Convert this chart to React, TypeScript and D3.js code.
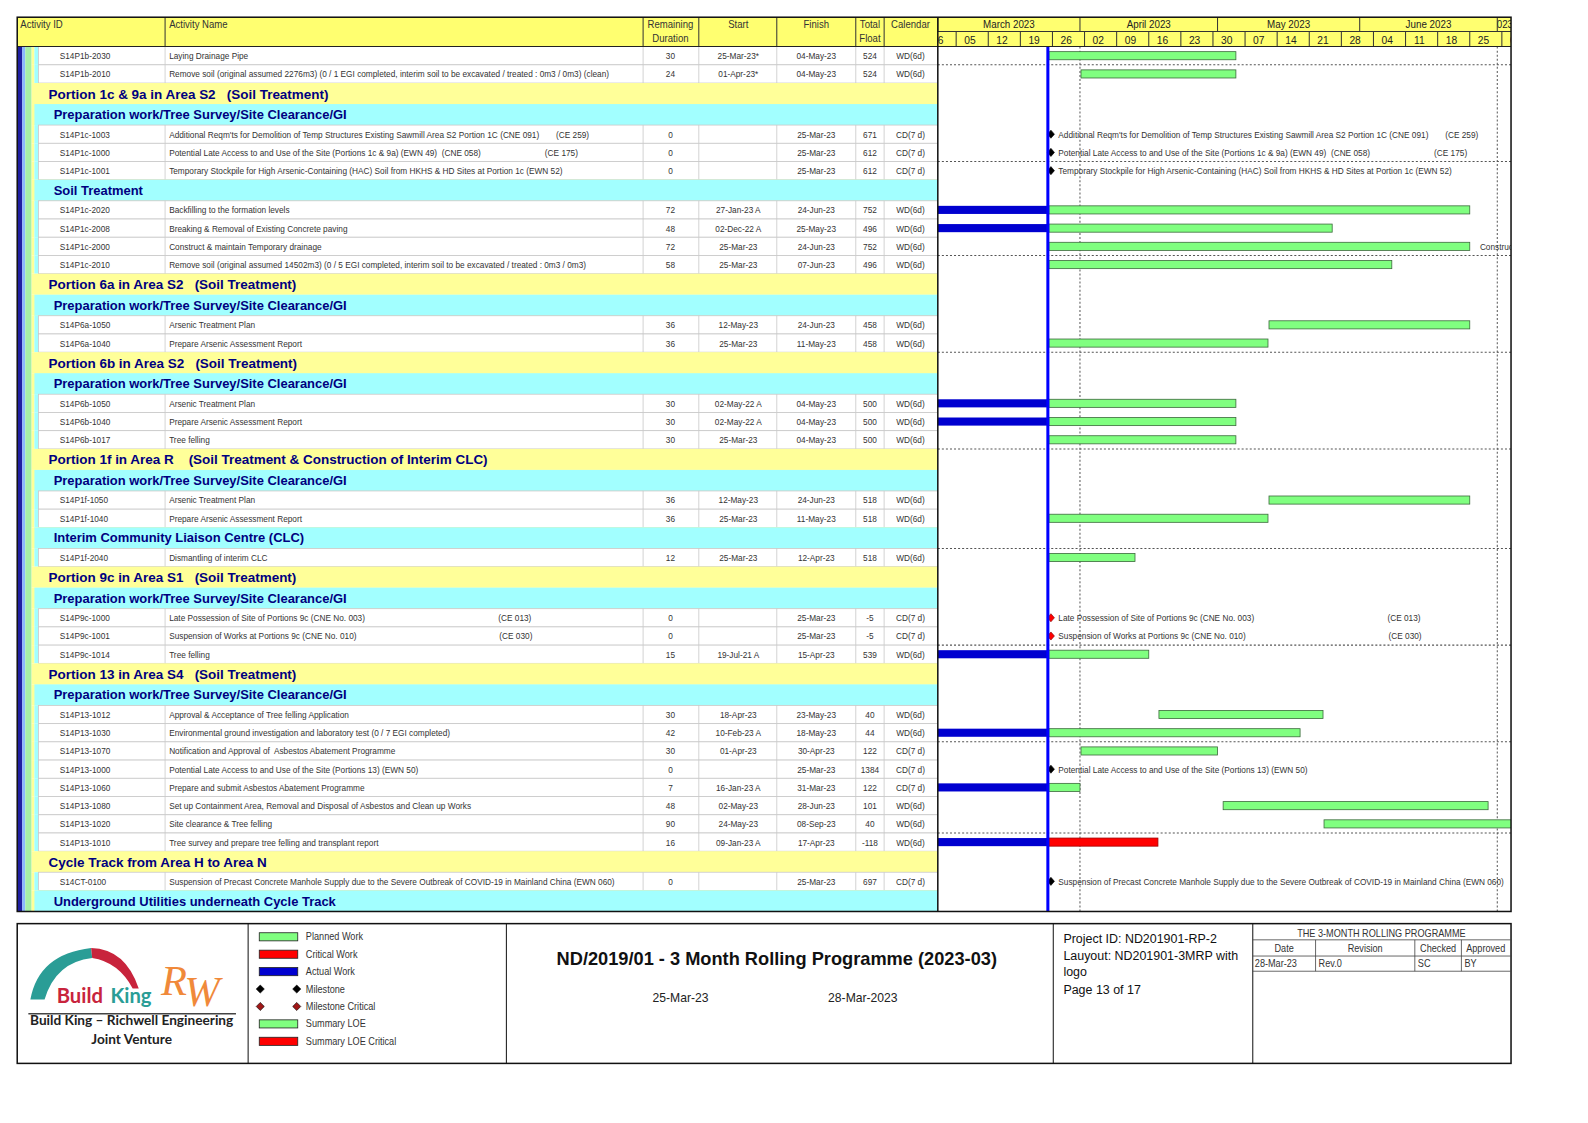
import React from "react";
import * as d3 from "d3";

// page outline: L1 = yellow WBS band, L2 = cyan WBS band, A = activity row (by id)
const outline: [string, string][] = [
  ["A", "S14P1b-2030"],
  ["A", "S14P1b-2010"],
  ["L1", "Portion 1c & 9a in Area S2   (Soil Treatment)"],
  ["L2", "Preparation work/Tree Survey/Site Clearance/GI"],
  ["A", "S14P1c-1003"],
  ["A", "S14P1c-1000"],
  ["A", "S14P1c-1001"],
  ["L2", "Soil Treatment"],
  ["A", "S14P1c-2020"],
  ["A", "S14P1c-2008"],
  ["A", "S14P1c-2000"],
  ["A", "S14P1c-2010"],
  ["L1", "Portion 6a in Area S2   (Soil Treatment)"],
  ["L2", "Preparation work/Tree Survey/Site Clearance/GI"],
  ["A", "S14P6a-1050"],
  ["A", "S14P6a-1040"],
  ["L1", "Portion 6b in Area S2   (Soil Treatment)"],
  ["L2", "Preparation work/Tree Survey/Site Clearance/GI"],
  ["A", "S14P6b-1050"],
  ["A", "S14P6b-1040"],
  ["A", "S14P6b-1017"],
  ["L1", "Portion 1f in Area R    (Soil Treatment & Construction of Interim CLC)"],
  ["L2", "Preparation work/Tree Survey/Site Clearance/GI"],
  ["A", "S14P1f-1050"],
  ["A", "S14P1f-1040"],
  ["L2", "Interim Community Liaison Centre (CLC)"],
  ["A", "S14P1f-2040"],
  ["L1", "Portion 9c in Area S1   (Soil Treatment)"],
  ["L2", "Preparation work/Tree Survey/Site Clearance/GI"],
  ["A", "S14P9c-1000"],
  ["A", "S14P9c-1001"],
  ["A", "S14P9c-1014"],
  ["L1", "Portion 13 in Area S4   (Soil Treatment)"],
  ["L2", "Preparation work/Tree Survey/Site Clearance/GI"],
  ["A", "S14P13-1012"],
  ["A", "S14P13-1030"],
  ["A", "S14P13-1070"],
  ["A", "S14P13-1000"],
  ["A", "S14P13-1060"],
  ["A", "S14P13-1080"],
  ["A", "S14P13-1020"],
  ["A", "S14P13-1010"],
  ["L1", "Cycle Track from Area H to Area N"],
  ["A", "S14CT-0100"],
  ["L2", "Underground Utilities underneath Cycle Track"],
];

const actIds = [
  "S14P1b-2030", "S14P1b-2010",
  "S14P1c-1003", "S14P1c-1000", "S14P1c-1001",
  "S14P1c-2020", "S14P1c-2008", "S14P1c-2000", "S14P1c-2010",
  "S14P6a-1050", "S14P6a-1040",
  "S14P6b-1050", "S14P6b-1040", "S14P6b-1017",
  "S14P1f-1050", "S14P1f-1040", "S14P1f-2040",
  "S14P9c-1000", "S14P9c-1001", "S14P9c-1014",
  "S14P13-1012", "S14P13-1030", "S14P13-1070", "S14P13-1000",
  "S14P13-1060", "S14P13-1080", "S14P13-1020", "S14P13-1010",
  "S14CT-0100",
];

const actNames = [
  "Laying Drainage Pipe",
  "Remove soil (original assumed 2276m3) (0 / 1 EGI completed, interim soil to be excavated / treated : 0m3 / 0m3) (clean)",
  "Additional Reqm'ts for Demolition of Temp Structures Existing Sawmill Area S2 Portion 1C (CNE 091)",
  "Potential Late Access to and Use of the Site (Portions 1c & 9a) (EWN 49)  (CNE 058)",
  "Temporary Stockpile for High Arsenic-Containing (HAC) Soil from HKHS & HD Sites at Portion 1c (EWN 52)",
  "Backfilling to the formation levels",
  "Breaking & Removal of Existing Concrete paving",
  "Construct & maintain Temporary drainage",
  "Remove soil (original assumed 14502m3) (0 / 5 EGI completed, interim soil to be excavated / treated : 0m3 / 0m3)",
  "Arsenic Treatment Plan",
  "Prepare Arsenic Assessment Report",
  "Arsenic Treatment Plan",
  "Prepare Arsenic Assessment Report",
  "Tree felling",
  "Arsenic Treatment Plan",
  "Prepare Arsenic Assessment Report",
  "Dismantling of interim CLC",
  "Late Possession of Site of Portions 9c (CNE No. 003)",
  "Suspension of Works at Portions 9c (CNE No. 010)",
  "Tree felling",
  "Approval & Acceptance of Tree felling Application",
  "Environmental ground investigation and laboratory test (0 / 7 EGI completed)",
  "Notification and Approval of  Asbestos Abatement Programme",
  "Potential Late Access to and Use of the Site (Portions 13) (EWN 50)",
  "Prepare and submit Asbestos Abatement Programme",
  "Set up Containment Area, Removal and Disposal of Asbestos and Clean up Works",
  "Site clearance & Tree felling",
  "Tree survey and prepare tree felling and transplant report",
  "Suspension of Precast Concrete Manhole Supply due to the Severe Outbreak of COVID-19 in Mainland China (EWN 060)",
];

const remaining = [30, 24, 0, 0, 0, 72, 48, 72, 58, 36, 36, 30, 30, 30, 36, 36, 12, 0, 0, 15, 30, 42, 30, 0, 7, 48, 90, 16, 0];

const starts = [
  "25-Mar-23*", "01-Apr-23*", "", "", "",
  "27-Jan-23 A", "02-Dec-22 A", "25-Mar-23", "25-Mar-23",
  "12-May-23", "25-Mar-23",
  "02-May-22 A", "02-May-22 A", "25-Mar-23",
  "12-May-23", "25-Mar-23", "25-Mar-23",
  "", "", "19-Jul-21 A",
  "18-Apr-23", "10-Feb-23 A", "01-Apr-23", "", "16-Jan-23 A", "02-May-23", "24-May-23", "09-Jan-23 A",
  "",
];

const finishes = [
  "04-May-23", "04-May-23", "25-Mar-23", "25-Mar-23", "25-Mar-23",
  "24-Jun-23", "25-May-23", "24-Jun-23", "07-Jun-23",
  "24-Jun-23", "11-May-23",
  "04-May-23", "04-May-23", "04-May-23",
  "24-Jun-23", "11-May-23", "12-Apr-23",
  "25-Mar-23", "25-Mar-23", "15-Apr-23",
  "23-May-23", "18-May-23", "30-Apr-23", "25-Mar-23", "31-Mar-23", "28-Jun-23", "08-Sep-23", "17-Apr-23",
  "25-Mar-23",
];

const floats = [524, 524, 671, 612, 612, 752, 496, 752, 496, 458, 458, 500, 500, 500, 518, 518, 518, -5, -5, 539, 40, 44, 122, 1384, 122, 101, 40, -118, 697];

const calendars = [
  "WD(6d)", "WD(6d)", "CD(7 d)", "CD(7 d)", "CD(7 d)",
  "WD(6d)", "WD(6d)", "WD(6d)", "WD(6d)", "WD(6d)", "WD(6d)",
  "WD(6d)", "WD(6d)", "WD(6d)", "WD(6d)", "WD(6d)", "WD(6d)",
  "CD(7 d)", "CD(7 d)", "WD(6d)",
  "WD(6d)", "WD(6d)", "CD(7 d)", "CD(7 d)", "CD(7 d)", "WD(6d)", "WD(6d)", "WD(6d)",
  "CD(7 d)",
];

const ceTags: Record<string, string> = {
  "S14P1c-1003": "(CE 259)",
  "S14P1c-1000": "(CE 175)",
  "S14P9c-1000": "(CE 013)",
  "S14P9c-1001": "(CE 030)",
};

const barLabelIds = ["S14P1c-2000"];

const dataDate = "25-Mar-23";

const legendItems: [string, string][] = [
  ["Planned Work", "planned"],
  ["Critical Work", "critical"],
  ["Actual Work", "actual"],
  ["Milestone", "ms"],
  ["Milestone Critical", "msCrit"],
  ["Summary LOE", "planned"],
  ["Summary LOE Critical", "critical"],
];

const revisionHead = ["Date", "Revision", "Checked", "Approved"];
const revisionRow = ["28-Mar-23", "Rev.0", "SC", "BY"];

// ---- layout ----
const K = 1588 / 1568; // page scale
const LEFT = 17;
const RIGHT = 1492;
const TOP = 17;
const HEAD_BOT = 46;
const GX = 926;
const ROW_H = 18;
const BAND_H = 20.75;
const colLines = [163, 635, 690, 767, 845, 873];
const ceTab: Record<string, number> = {
  "S14P1c-1003": 382,
  "S14P1c-1000": 371,
  "S14P9c-1000": 325,
  "S14P9c-1001": 326,
};

const SANS = "'Liberation Sans',Arial,sans-serif";
const NAVY = "#000080";
const YEL = "#ffff99";
const CYAN = "#a2ffff";
const GREEN = "#80ff80";
const BLUE = "#0000d0";

const parse = d3.timeParse("%d-%b-%y");
const clean = (s: string) => parse(s.replace("*", "").replace(" A", "").trim()) as Date;

// condensed text (the PDF uses a narrow face)
const T = ({ x, y, anchor = "start", sx = 0.86, size = 9.5, fill = "#333", children }: any) => (
  <text
    transform={`translate(${x},${y}) scale(${sx},1)`}
    textAnchor={anchor}
    style={{ fontFamily: SANS, fontSize: size, fill, whiteSpace: "pre" }}
  >
    {children}
  </text>
);

export default function App() {
  let yy = HEAD_BOT;
  const rows = outline.map(([kind, val]) => {
    const h = kind === "A" ? ROW_H : BAND_H;
    const r = { kind, val, y: yy, h };
    yy += h;
    return r;
  });
  const bodyBot = yy;

  const x = d3
    .scaleTime()
    .domain([new Date(2023, 2, 1), new Date(2023, 6, 4)])
    .range([GX, RIGHT]);
  const dd = clean(dataDate);
  const xdd = x(dd);

  const weeks = d3.timeSunday.range(new Date(2023, 1, 26), new Date(2023, 6, 9));
  const months = d3.timeMonth.range(new Date(2023, 2, 1), new Date(2023, 7, 1));
  const quarters = months.filter((m) => m.getMonth() % 3 === 0);
  const fmtDay = d3.timeFormat("%d");
  const fmtMonth = d3.timeFormat("%B %Y");

  return (
    <svg
      width={1588}
      height={1123}
      style={{ position: "absolute", left: 0, top: 0, background: "#fff" }}
    >
      <defs>
        <clipPath id="gclip">
          <rect x={GX} y={TOP} width={RIGHT - GX} height={bodyBot - TOP} />
        </clipPath>
        {months.map((m, k) => (
          <clipPath id={`mclip${k}`} key={k}>
            <rect
              x={Math.max(x(m), GX)}
              y={TOP}
              width={Math.max(0, Math.min(x(d3.timeMonth.offset(m, 1)), RIGHT) - Math.max(x(m), GX))}
              height={14}
            />
          </clipPath>
        ))}
      </defs>
      <g transform={`scale(${K})`}>
        {/* table header */}
        <rect x={LEFT} y={TOP} width={RIGHT - LEFT} height={HEAD_BOT - TOP} fill="#ffff70" />
        {colLines.map((c) => (
          <line key={c} x1={c} x2={c} y1={TOP} y2={HEAD_BOT} stroke="#333" strokeWidth={1} />
        ))}
        <T x={20} y={28} size={11}>Activity ID</T>
        <T x={167} y={28} size={11}>Activity Name</T>
        <T x={662} y={28} size={11} anchor="middle">Remaining</T>
        <T x={662} y={41} size={11} anchor="middle">Duration</T>
        <T x={729} y={28} size={11} anchor="middle">Start</T>
        <T x={806} y={28} size={11} anchor="middle">Finish</T>
        <T x={859} y={28} size={11} anchor="middle">Total</T>
        <T x={859} y={41} size={11} anchor="middle">Float</T>
        <T x={899} y={28} size={11} anchor="middle">Calendar</T>

        {/* table body */}
        {rows.map((r, k) => {
          const cy = r.y + r.h / 2;
          if (r.kind === "L1") {
            return (
              <g key={k}>
                <rect x={31} y={r.y} width={GX - 31} height={r.h} fill={YEL} />
                <text x={48} y={cy + 5} style={{ fontFamily: SANS, fontSize: 13.3, fontWeight: 700, fill: NAVY, whiteSpace: "pre" }}>
                  {r.val}
                </text>
              </g>
            );
          }
          if (r.kind === "L2") {
            return (
              <g key={k}>
                <rect x={31} y={r.y} width={GX - 31} height={r.h} fill={YEL} />
                <rect x={34} y={r.y} width={GX - 34} height={r.h} fill={CYAN} />
                <text x={53} y={cy + 4.5} style={{ fontFamily: SANS, fontSize: 12.8, fontWeight: 700, fill: NAVY }}>
                  {r.val}
                </text>
              </g>
            );
          }
          const i = actIds.indexOf(r.val);
          const ce = ceTags[r.val];
          const ty = cy + 3.4;
          return (
            <g key={k}>
              <rect x={31} y={r.y} width={3} height={r.h} fill={YEL} />
              <rect x={34} y={r.y} width={4} height={r.h} fill={CYAN} />
              <rect x={38} y={r.y} width={GX - 38} height={r.h} fill="#fff" stroke="#c8c8c8" strokeWidth={0.8} />
              {colLines.map((c) => (
                <line key={c} x1={c} x2={c} y1={r.y} y2={r.y + r.h} stroke="#c8c8c8" strokeWidth={0.8} />
              ))}
              <T x={59} y={ty}>{actIds[i]}</T>
              <T x={167} y={ty}>{actNames[i]}</T>
              {ce && <T x={167 + ceTab[r.val]} y={ty}>{ce}</T>}
              <T x={662} y={ty} anchor="middle">{remaining[i]}</T>
              <T x={729} y={ty} anchor="middle">{starts[i]}</T>
              <T x={806} y={ty} anchor="middle">{finishes[i]}</T>
              <T x={859} y={ty} anchor="middle">{floats[i]}</T>
              <T x={899} y={ty} anchor="middle">{calendars[i]}</T>
            </g>
          );
        })}

        {/* left outline strips */}
        <rect x={LEFT} y={HEAD_BOT} width={5} height={bodyBot - HEAD_BOT} fill="#1f1fa0" />
        <rect x={22} y={HEAD_BOT} width={3} height={bodyBot - HEAD_BOT} fill="#8ab8ff" />
        <rect x={25} y={HEAD_BOT} width={6} height={bodyBot - HEAD_BOT} fill="#a6f0a6" />

        {/* gantt */}
        <rect x={GX} y={HEAD_BOT} width={RIGHT - GX} height={bodyBot - HEAD_BOT} fill="#fff" />
        <g clipPath="url(#gclip)">
          {/* timescale */}
          <rect x={GX} y={TOP} width={RIGHT - GX} height={HEAD_BOT - TOP} fill="#ffff70" />
          {months.map((m, k) => {
            const x0 = Math.max(x(m), GX);
            const x1 = x(d3.timeMonth.offset(m, 1));
            const cut = x1 > RIGHT;
            return (
              <g key={k}>
                <line x1={x(m)} x2={x(m)} y1={TOP} y2={31} stroke="#333" />
                <g clipPath={`url(#mclip${k})`}>
                  <T x={cut ? RIGHT + 2 : (x0 + x1) / 2} y={28} size={11} sx={0.88} anchor={cut ? "end" : "middle"} fill="#222">
                    {fmtMonth(m)}
                  </T>
                </g>
              </g>
            );
          })}
          <line x1={GX} x2={RIGHT} y1={31} y2={31} stroke="#333" />
          {weeks.map((w, k) => (
            <g key={k}>
              <line x1={x(w)} x2={x(w)} y1={31} y2={HEAD_BOT} stroke="#333" />
              <T x={x(d3.timeDay.offset(w, 3.5))} y={43} size={11.5} sx={0.88} anchor="middle" fill="#222">
                {fmtDay(w)}
              </T>
            </g>
          ))}

          {/* sight lines every 5 rows */}
          {rows.map((r, k) =>
            k % 5 === 0 && k < rows.length - 1 ? (
              <line key={k} x1={GX} x2={RIGHT} y1={r.y + r.h} y2={r.y + r.h} stroke="#555" strokeDasharray="2,2" />
            ) : null
          )}
          {quarters.map((q, k) => (
            <line key={k} x1={x(q)} x2={x(q)} y1={HEAD_BOT} y2={bodyBot} stroke="#555" strokeDasharray="2,2" />
          ))}

          {/* bars */}
          {rows.map((r, k) => {
            if (r.kind !== "A") return null;
            const i = actIds.indexOf(r.val);
            const cy = r.y + r.h / 2;
            const crit = floats[i] < 0;
            if (remaining[i] === 0) {
              const mx = xdd + 3;
              const ce = ceTags[r.val];
              return (
                <g key={k}>
                  <path
                    d={`M${mx - 3.5},${cy} L${mx},${cy - 4} L${mx + 3.5},${cy} L${mx},${cy + 4} Z`}
                    fill={crit ? "#ff0000" : "#000"}
                    stroke={crit ? "#800000" : "#000"}
                    strokeWidth={0.6}
                  />
                  <T x={1045} y={cy + 3.4}>{actNames[i]}</T>
                  {ce && <T x={1045 + ceTab[r.val]} y={cy + 3.4}>{ce}</T>}
                </g>
              );
            }
            const sd = clean(starts[i]);
            const fd = d3.timeDay.offset(clean(finishes[i]), 1);
            const isActual = starts[i].endsWith(" A");
            const bs = isActual ? xdd : x(sd);
            const bf = x(fd);
            return (
              <g key={k}>
                {isActual && (
                  <rect x={Math.max(x(sd), GX)} y={cy - 4} width={xdd - Math.max(x(sd), GX)} height={8} fill={BLUE} />
                )}
                <rect
                  x={bs + 1}
                  y={cy - 4}
                  width={bf - bs - 1}
                  height={8}
                  fill={crit ? "#ff0000" : GREEN}
                  stroke={crit ? "#a00000" : "#3d6b3d"}
                  strokeWidth={0.8}
                />
                {barLabelIds.includes(r.val) && <T x={bf + 10} y={cy + 3.4}>{actNames[i]}</T>}
              </g>
            );
          })}

          {/* data date */}
          <line x1={xdd} x2={xdd} y1={HEAD_BOT} y2={bodyBot} stroke="#0000ff" strokeWidth={3} />
        </g>

        {/* frames */}
        <line x1={LEFT} x2={RIGHT} y1={HEAD_BOT} y2={HEAD_BOT} stroke="#222" strokeWidth={1} />
        <line x1={GX} x2={GX} y1={TOP} y2={bodyBot} stroke="#111" strokeWidth={1.5} />
        <rect x={LEFT} y={TOP} width={RIGHT - LEFT} height={bodyBot - TOP} fill="none" stroke="#111" strokeWidth={1.5} />

        {/* footer */}
        <rect x={LEFT} y={912} width={RIGHT - LEFT} height={138} fill="#fff" stroke="#111" strokeWidth={1.5} />
        {[245, 500, 1040, 1237].map((c) => (
          <line key={c} x1={c} x2={c} y1={912} y2={1050} stroke="#111" strokeWidth={1} />
        ))}

        {/* logo */}
        <path d="M30,987 Q38,942 90,936 L91,946 Q55,950 44,987 Z" fill="#2a9d96" />
        <path d="M90,936 Q124,937 137,976 L131,976 Q117,950 91,946 Z" fill="#c8243c" />
        <text x={56} y={990} style={{ fontFamily: "Lato, 'Open Sans', sans-serif", fontSize: 20, fontWeight: 700, fill: "#c8243c" }}>
          Build
        </text>
        <text x={109} y={990} style={{ fontFamily: "Lato, 'Open Sans', sans-serif", fontSize: 20, fontWeight: 700, fill: "#2a9d96" }}>
          King
        </text>
        <text x={159} y={982} style={{ fontFamily: "'Liberation Serif', serif", fontStyle: "italic", fontSize: 42, fill: "#f0893a" }}>R</text>
        <text x={182} y={993} style={{ fontFamily: "'Liberation Serif', serif", fontStyle: "italic", fontSize: 42, fill: "#f0893a" }}>W</text>
        <line x1={28} x2={233} y1={1001} y2={1001} stroke="#444" strokeWidth={1.5} />
        <text x={130} y={1012} textAnchor="middle" style={{ fontFamily: "Lato, sans-serif", fontSize: 13.5, fontWeight: 700, fill: "#222" }}>
          Build King – Richwell Engineering
        </text>
        <text x={130} y={1031} textAnchor="middle" style={{ fontFamily: "Lato, sans-serif", fontSize: 13.5, fontWeight: 700, fill: "#222" }}>
          Joint Venture
        </text>

        {/* legend */}
        {legendItems.map(([label, kind], k) => {
          const cy = 925 + k * 17.2;
          let mark;
          if (kind === "ms" || kind === "msCrit") {
            const f = kind === "ms" ? "#000" : "#a01818";
            mark = (
              <g>
                {[257, 293].map((mx) => (
                  <path key={mx} d={`M${mx - 4},${cy} L${mx},${cy - 4} L${mx + 4},${cy} L${mx},${cy + 4} Z`} fill={f} stroke="#000" strokeWidth={0.6} />
                ))}
              </g>
            );
          } else {
            const fill = kind === "planned" ? GREEN : kind === "critical" ? "#ff0000" : BLUE;
            mark = <rect x={256} y={cy - 4} width={38} height={8} fill={fill} stroke="#222" strokeWidth={0.8} />;
          }
          return (
            <g key={k}>
              {mark}
              <T x={302} y={cy + 3.5} size={10.5} sx={0.86}>{label}</T>
            </g>
          );
        })}

        {/* title */}
        <text x={767} y={953} textAnchor="middle" style={{ fontFamily: SANS, fontSize: 18, fontWeight: 700, fill: "#111" }}>
          ND/2019/01 - 3 Month Rolling Programme (2023-03)
        </text>
        <text x={672} y={989} textAnchor="middle" style={{ fontFamily: SANS, fontSize: 12, fill: "#222" }}>25-Mar-23</text>
        <text x={852} y={989} textAnchor="middle" style={{ fontFamily: SANS, fontSize: 12, fill: "#222" }}>28-Mar-2023</text>

        {/* project info */}
        <g style={{ fontFamily: SANS, fontSize: 12.3, fill: "#111" }}>
          <text x={1050} y={931}>Project ID: ND201901-RP-2</text>
          <text x={1050} y={948}>Lauyout: ND201901-3MRP with</text>
          <text x={1050} y={964}>logo</text>
          <text x={1050} y={981}>Page 13 of 17</text>
        </g>

        {/* revision box */}
        <T x={1364} y={925} size={10.5} anchor="middle">THE 3-MONTH ROLLING PROGRAMME</T>
        {[928, 944, 959].map((ly) => (
          <line key={ly} x1={1237} x2={RIGHT} y1={ly} y2={ly} stroke="#444" strokeWidth={0.8} />
        ))}
        {[1299, 1397, 1443].map((lx) => (
          <line key={lx} x1={lx} x2={lx} y1={928} y2={959} stroke="#444" strokeWidth={0.8} />
        ))}
        {revisionHead.map((h, k) => (
          <T key={h} x={[1268, 1348, 1420, 1467][k]} y={940} size={10.5} anchor="middle">{h}</T>
        ))}
        {revisionRow.map((v, k) => (
          <T key={v} x={[1239, 1302, 1400, 1446][k]} y={955} size={10.5}>{v}</T>
        ))}
      </g>
    </svg>
  );
}
